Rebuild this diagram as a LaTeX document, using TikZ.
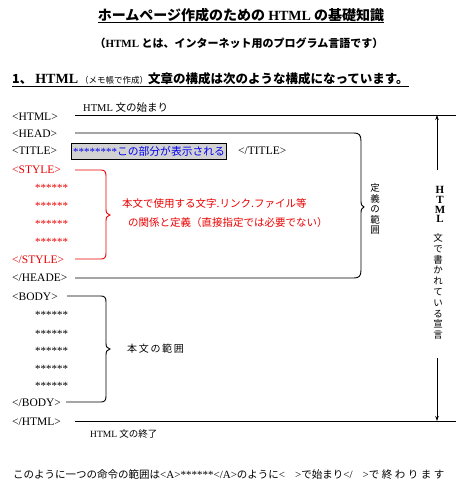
\documentclass[tikz,border=0pt]{standalone}
\usepackage{fontspec}
\setmainfont{Liberation Serif}
\newfontfamily\jp{Noto Sans CJK JP}
\usetikzlibrary{arrows.meta}
\definecolor{boxgray}{RGB}{210,210,210}
\definecolor{tagred}{RGB}{235,0,0}
\definecolor{txtblue}{RGB}{0,0,240}
\tikzset{
  tag/.style={anchor=west,inner sep=0pt,font=\fontsize{11.5}{12}\selectfont},
  redtag/.style={tag,text=tagred},
  stars/.style={anchor=west,inner sep=0pt,font=\fontsize{11}{12}\selectfont},
  redstars/.style={stars,text=tagred},
  jtxt/.style={inner sep=0pt,font=\jp\fontsize{10.5}{12}\selectfont},
  vtxt/.style={inner sep=0pt,align=center},
  rule/.style={line width=0.9pt},
  bracepath/.style={line width=0.9pt},
  arr/.style={line width=0.8pt,-{Stealth[length=5pt,width=3.5pt]}}
}
\begin{document}
\begin{tikzpicture}[x=1pt,y=-1pt]
\fill[white] (0,0) rectangle (460,490);
\useasboundingbox (0,0) rectangle (460,490);

% titles
\node[inner sep=0pt,font=\jp\bfseries\fontsize{14}{16}\selectfont] (title) at (241,15)
  {ホームページ作成のための {\rmfamily\bfseries HTML} の基礎知識};
\draw[line width=0.9pt] ([yshift=-2.5pt]title.base west) -- ([yshift=-2.5pt]title.base east);
\node[inner sep=0pt,font=\jp\bfseries\fontsize{11}{13}\selectfont] (sub) at (239,43)
  {（{\rmfamily\bfseries HTML} とは、インターネット用のプログラム言語です）};
\node[inner sep=0pt,anchor=west,font=\jp\bfseries\fontsize{12.5}{14}\selectfont] (head1) at (12,79)
  {1、\hspace{3pt}{\rmfamily\bfseries\fontsize{14}{14}\selectfont HTML}\hspace{2pt}{\mdseries\fontsize{8.5}{9}\selectfont （メモ帳で作成）}文章の構成は次のような構成になっています。};
\draw[line width=0.9pt] ([yshift=-2.5pt]head1.base west) -- ([yshift=-2.5pt]head1.base east);

% tags
\node[tag] (html) at (12,117) {<HTML>};
\node[tag] (head) at (12,134) {<HEAD>};
\node[tag] (titletag) at (12,151) {<TITLE>};
\node[redtag] (style) at (12,170) {<STYLE>};
\node[redstars] (s1) at (35,188) {******};
\node[redstars] (s2) at (35,206) {******};
\node[redstars] (s3) at (35,224) {******};
\node[redstars] (s4) at (35,242) {******};
\node[redtag] (estyle) at (12,260) {</STYLE>};
\node[tag] (ehead) at (12,278) {</HEADE>};
\node[tag] (body) at (12,297) {<BODY>};
\node[stars] (b1) at (35,315) {******};
\node[stars] (b2) at (35,334) {******};
\node[stars] (b3) at (35,351) {******};
\node[stars] (b4) at (35,369) {******};
\node[stars] (b5) at (35,386) {******};
\node[tag] (ebody) at (12,403) {</BODY>};
\node[tag] (ehtml) at (12,422) {</HTML>};

% title box
\node[draw,fill=boxgray,line width=1pt,anchor=west,inner xsep=1.5pt,inner ysep=0pt,
      text width=152pt,minimum height=16pt,align=left,text=txtblue] (vis) at (71,151)
  {{\fontsize{11}{12}\selectfont ********}{\jp\fontsize{10.8}{12}\selectfont この部分が表示される}};
\node[tag] (etitle) at (238,151) {</TITLE>};

% labels
\node[inner sep=0pt,anchor=west] (start) at (83,108)
  {\fontsize{10.5}{12}\selectfont HTML {\jp 文の始まり}};
\node[inner sep=0pt,anchor=west] (end) at (90,434)
  {\fontsize{9.5}{11}\selectfont HTML {\jp 文の終了}};
\node[jtxt,anchor=west,text=tagred] (red1) at (122,204) {本文で使用する文字.リンク.ファイル等};
\node[jtxt,anchor=west,text=tagred] (red2) at (128,223) {の関係と定義（直接指定では必要でない）};
\node[inner sep=0pt,anchor=west,font=\jp\fontsize{10}{12}\selectfont] (bodyrange) at (127,349) {本\,文\,の\,範\,囲};
\node[vtxt,font=\jp\fontsize{9.5}{10.5}\selectfont] (defrange) at (375,209) {定\\義\\の\\範\\囲};
\node[vtxt,font=\bfseries\fontsize{11}{9.8}\selectfont] (vhtml) at (440,204.5) {H\\T\\M\\L};
\node[vtxt,font=\jp\fontsize{9.5}{10.8}\selectfont] (vdecl) at (438,286.5) {文\\で\\書\\か\\れ\\て\\い\\る\\宣\\言};

% coordinates
\coordinate (topL) at (75,115);
\coordinate (topR) at (456,115);
\coordinate (botL) at (75,421);
\coordinate (botR) at (456,421);
\coordinate (hTop) at (75,133);
\coordinate (hBot) at (75,278);
\coordinate (sTop) at (75,170);
\coordinate (sBot) at (75,259);
\coordinate (bTop) at (67,296);
\coordinate (bBot) at (66,402);
\coordinate (aUpS) at (437,170);
\coordinate (aUpE) at (437,115);
\coordinate (aDnS) at (437,358);
\coordinate (aDnE) at (437,421);

% rules
\draw[rule] (topL) -- (topR);
\draw[rule] (botL) -- (botR);

% head brace
\draw[bracepath] (hTop) -- (354,133) .. controls (359,133) and (361,135) .. (361,141)
  -- (361,201) .. controls (361,205) and (362,206) .. (364,207)
  .. controls (362,208) and (361,209) .. (361,213)
  -- (361,270) .. controls (361,276) and (359,278) .. (354,278) -- (hBot);

% style brace (red)
\draw[bracepath,tagred] (sTop) -- (101,170) .. controls (105,170) and (106,172) .. (106,176)
  -- (106,209) .. controls (106,213) and (107,214) .. (110,215)
  .. controls (107,216) and (106,217) .. (106,221)
  -- (106,253) .. controls (106,257) and (105,259) .. (101,259) -- (sBot);

% body brace
\draw[bracepath] (bTop) -- (101,296) .. controls (105,296) and (106,298) .. (106,302)
  -- (106,343) .. controls (106,347) and (107,348) .. (110,349)
  .. controls (107,350) and (106,351) .. (106,355)
  -- (106,396) .. controls (106,400) and (105,402) .. (101,402) -- (bBot);

% vertical arrows
\draw[arr] (aUpS) -- (aUpE);
\draw[arr] (aDnS) -- (aDnE);

% bottom sentence
\node[inner sep=0pt,anchor=west,font=\jp\fontsize{10.5}{12}\selectfont] (note) at (13,475)
  {このように一つの命令の範囲は{\rmfamily\fontsize{11}{12}\selectfont <A>******</A>}のように{\rmfamily\fontsize{11}{12}\selectfont <\hspace{10pt}>}で始まり{\rmfamily\fontsize{11}{12}\selectfont </\hspace{10pt}>}で\hspace{2.5pt}終\hspace{2.5pt}わ\hspace{2.5pt}り\hspace{2.5pt}ま\hspace{2.5pt}す};
\end{tikzpicture}
\end{document}
